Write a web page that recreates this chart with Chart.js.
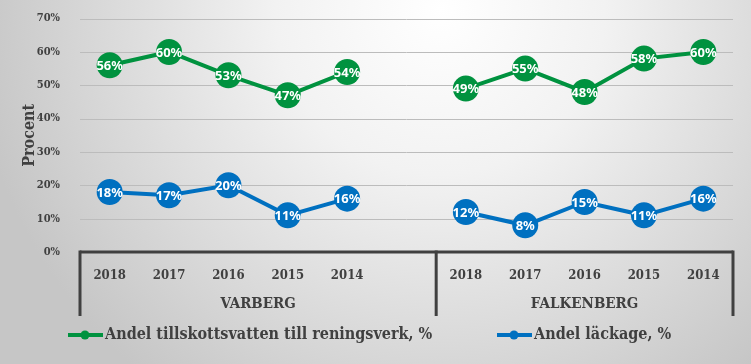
<!DOCTYPE html>
<html lang="sv">
<head>
    <meta charset="UTF-8">
    <title>Tillskottsvatten och läckage</title>
    <script src="https://cdn.jsdelivr.net/npm/chart.js"></script>
    <style>
        body, html {
            margin: 0;
            padding: 0;
            width: 751px;
            height: 364px;
            overflow: hidden;
            background: #d0d0d0;
        }
        .chart-container {
            position: relative;
            width: 751px;
            height: 364px;
        }
    </style>
</head>
<body>
    <div class="chart-container">
        <canvas id="lineChart"></canvas>
    </div>

    <script>
        // data (index 5 is the gap between the two towns)
        const years = ['2018', '2017', '2016', '2015', '2014', '', '2018', '2017', '2016', '2015', '2014'];
        const groups = [
            { name: 'VARBERG', from: 0, to: 5 },
            { name: 'FALKENBERG', from: 6, to: 10 }
        ];
        const tillskottsvatten = [56, 60, 53, 47, 54, null, 49, 55, 48, 58, 60];
        const lackage = [18, 17, 20, 11, 16, null, 12, 8, 15, 11, 16];
        const seriesNames = ['Andel tillskottsvatten till reningsverk, %', 'Andel läckage, %'];

        const GREEN = '#00923f';
        const BLUE = '#0070c0';
        const DARK = '#404040';
        const slab = '"DejaVu Serif Condensed", "DejaVu Serif", serif';

        // radial grey background plus grid lines inside the plot area
        const bgPlugin = {
            id: 'bg',
            beforeDraw(chart) {
                const ctx = chart.ctx;
                const g = ctx.createRadialGradient(440, 10, 0, 440, 10, 470);
                g.addColorStop(0, '#ffffff');
                g.addColorStop(0.35, '#f2f2f2');
                g.addColorStop(1, '#c6c6c6');
                ctx.save();
                ctx.fillStyle = g;
                ctx.fillRect(0, 0, chart.width, chart.height);
                ctx.restore();
            },
            beforeDatasetsDraw(chart) {
                const ctx = chart.ctx;
                const y = chart.scales.y;
                const area = chart.chartArea;
                ctx.save();
                ctx.strokeStyle = '#bcbcbc';
                ctx.lineWidth = 1;
                y.ticks.forEach(t => {
                    if (t.value === 0) return;
                    const py = Math.round(y.getPixelForValue(t.value)) + 0.5;
                    ctx.beginPath();
                    ctx.moveTo(area.left, py);
                    ctx.lineTo(area.right, py);
                    ctx.stroke();
                });
                ctx.restore();
            }
        };

        // axis bracket, town names, data labels and legend
        const extrasPlugin = {
            id: 'extras',
            afterDatasetsDraw(chart) {
                const ctx = chart.ctx;
                ctx.save();
                ctx.font = 'bold 13px "Noto Sans", sans-serif';
                ctx.fillStyle = '#ffffff';
                ctx.textAlign = 'center';
                ctx.textBaseline = 'middle';
                chart.data.datasets.forEach((ds, i) => {
                    chart.getDatasetMeta(i).data.forEach((pt, j) => {
                        if (ds.data[j] == null) return;
                        ctx.fillText(ds.data[j] + '%', pt.x, pt.y + 1);
                    });
                });
                ctx.restore();
            },
            afterDraw(chart) {
                const ctx = chart.ctx;
                const x = chart.scales.x;
                const top = chart.chartArea.bottom;
                const half = (x.getPixelForValue(1) - x.getPixelForValue(0)) / 2;
                const edges = [x.getPixelForValue(0) - half, x.getPixelForValue(5) + half, x.getPixelForValue(10) + half];
                ctx.save();
                ctx.strokeStyle = DARK;
                ctx.lineWidth = 3;
                ctx.beginPath();
                ctx.moveTo(edges[0], top);
                ctx.lineTo(edges[2], top);
                ctx.stroke();
                edges.forEach(px => {
                    ctx.beginPath();
                    ctx.moveTo(px, top - 1.5);
                    ctx.lineTo(px, top + 64);
                    ctx.stroke();
                });
                ctx.fillStyle = DARK;
                ctx.font = 'bold 15px ' + slab;
                ctx.textAlign = 'center';
                ctx.textBaseline = 'middle';
                groups.forEach(g => {
                    const l = x.getPixelForValue(g.from) - half;
                    const r = x.getPixelForValue(g.to) + half;
                    ctx.fillText(g.name, (l + r) / 2, top + 52);
                });

                // legend
                const colors = [GREEN, BLUE];
                const starts = [68, 497];
                ctx.font = 'bold 16px ' + slab;
                ctx.textAlign = 'left';
                seriesNames.forEach((name, i) => {
                    const ly = 335;
                    const sx = starts[i];
                    ctx.strokeStyle = colors[i];
                    ctx.lineWidth = 4;
                    ctx.beginPath();
                    ctx.moveTo(sx, ly);
                    ctx.lineTo(sx + 35, ly);
                    ctx.stroke();
                    ctx.fillStyle = colors[i];
                    ctx.beginPath();
                    ctx.arc(sx + 17, ly, 4.5, 0, Math.PI * 2);
                    ctx.fill();
                    ctx.fillStyle = DARK;
                    ctx.fillText(name, sx + 37, ly);
                });
                ctx.restore();
            }
        };

        const ctx = document.getElementById('lineChart').getContext('2d');
        const lineChart = new Chart(ctx, {
            type: 'line',
            data: {
                labels: years,
                datasets: [{
                    label: seriesNames[0],
                    data: tillskottsvatten,
                    borderColor: GREEN,
                    backgroundColor: GREEN,
                    borderWidth: 4,
                    pointRadius: 13,
                    pointHoverRadius: 13,
                    pointBorderWidth: 0,
                    spanGaps: false
                }, {
                    label: seriesNames[1],
                    data: lackage,
                    borderColor: BLUE,
                    backgroundColor: BLUE,
                    borderWidth: 4,
                    pointRadius: 13,
                    pointHoverRadius: 13,
                    pointBorderWidth: 0,
                    spanGaps: false
                }]
            },
            options: {
                responsive: true,
                maintainAspectRatio: false,
                animation: false,
                layout: {
                    padding: { top: 11, right: 18, left: 0, bottom: 0 }
                },
                plugins: {
                    legend: { display: false },
                    tooltip: { enabled: false }
                },
                scales: {
                    x: {
                        offset: true,
                        grid: { display: false },
                        border: { display: false },
                        ticks: {
                            color: DARK,
                            font: { family: slab, size: 13, weight: 'bold' },
                            padding: 8,
                            maxRotation: 0,
                            autoSkip: false
                        },
                        afterFit(scale) { scale.height = 112; }
                    },
                    y: {
                        min: 0,
                        max: 70,
                        ticks: {
                            stepSize: 10,
                            color: DARK,
                            font: { family: slab, size: 11, weight: 'bold' },
                            padding: 12,
                            callback: v => v + '%'
                        },
                        grid: { display: false },
                        border: { display: false },
                        title: {
                            display: true,
                            text: 'Procent',
                            color: DARK,
                            font: { family: slab, size: 16, weight: 'bold' },
                            padding: { top: 20, bottom: 0 }
                        },
                        afterFit(scale) { scale.width = 80; }
                    }
                }
            },
            plugins: [bgPlugin, extrasPlugin]
        });
    </script>
</body>
</html>
